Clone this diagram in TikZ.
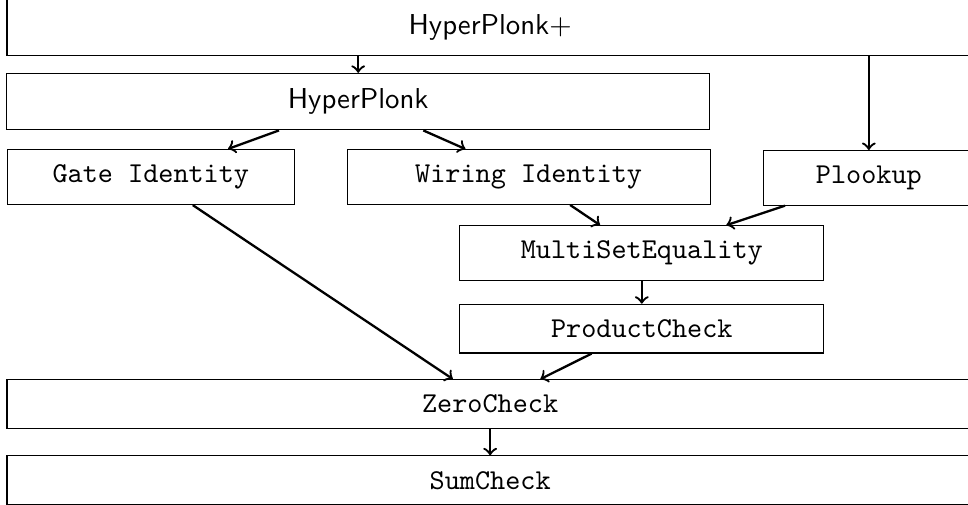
\documentclass[tikz,border=0pt]{standalone}
\begin{document}
\begin{tikzpicture}[x=1cm, y=1cm]
    \tikzstyle{block}=[draw, shape=rectangle, inner xsep=0pt, inner ysep=5.3pt]
    \tikzstyle{link}=[->, thick]
    \useasboundingbox (0,0) rectangle (11.81,-6.16);
    % draw blocks
    \node [block, minimum width=11.79cm] (hyperplonkplus) at (5.98,-0.33) {\textsf{HyperPlonk}$+$};
    \node [block, minimum width=8.58cm] (hyperplonk) at (4.37,-1.24) {\textsf{HyperPlonk}};

    \node [block, minimum width=3.50cm] (gate) at (1.84,-2.16) {\texttt{Gate Identity}};
    \node [block, minimum width=4.43cm] (wiring) at (6.45,-2.16) {\texttt{Wiring Identity}};
    \node [block, minimum width=2.57cm] (plookup) at (10.60,-2.17) {\texttt{Plookup}};

    \node [block, minimum width=4.44cm] (multiset) at (7.83,-3.09) {\texttt{MultiSetEquality}};
    \node [block, minimum width=4.44cm] (product) at (7.83,-4.01) {\texttt{ProductCheck}};

    \node [block, minimum width=11.79cm] (zero) at (5.98,-4.93) {\texttt{ZeroCheck}};
    \node [block, minimum width=11.79cm] (sum) at (5.98,-5.86) {\texttt{SumCheck}};

    % draw lines
    \draw [link] (hyperplonk.north |- hyperplonkplus.south) -- (hyperplonk);
    \draw [link] (plookup.north |- hyperplonkplus.south) -- (plookup);

    \foreach \i/\j in {hyperplonk/gate, hyperplonk/wiring, wiring/multiset, plookup/multiset, multiset/product, gate/zero, product/zero, zero/sum}
    \draw [link] (\i) -- (\j);
\end{tikzpicture}
\end{document}
